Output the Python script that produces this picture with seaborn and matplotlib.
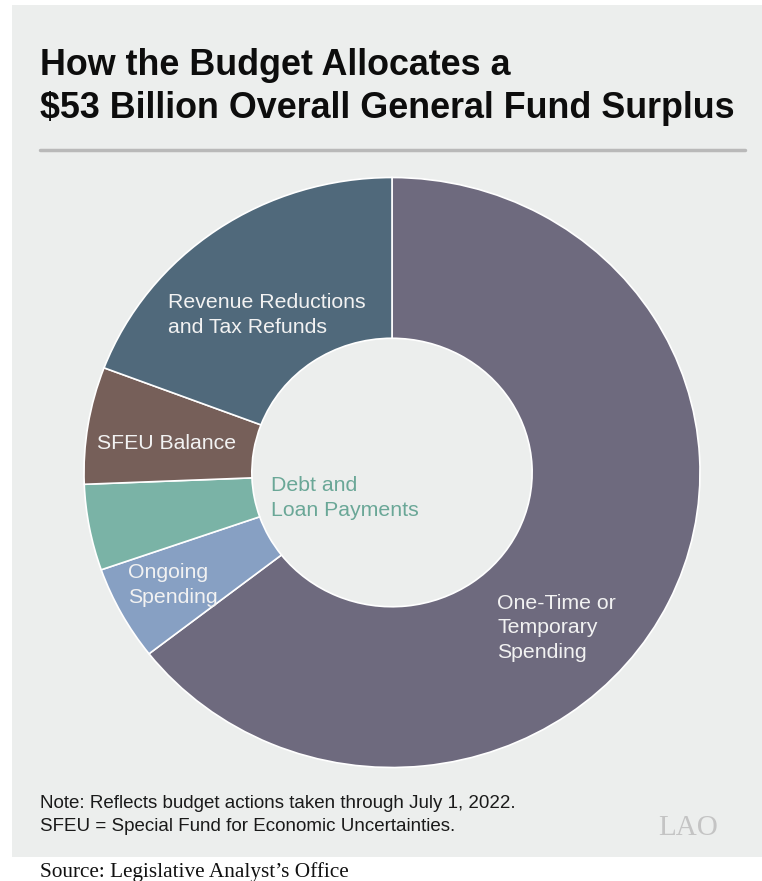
import matplotlib.pyplot as plt
import matplotlib.patches as patches
import seaborn as sns

sns.set_theme(style="white")
plt.rcParams['font.family'] = ['Liberation Sans', 'DejaVu Sans']

# Data (billions of dollars)
categories = ["One-Time or\nTemporary\nSpending", "Ongoing\nSpending",
              "Debt and\nLoan Payments", "SFEU Balance",
              "Revenue Reductions\nand Tax Refunds"]
values = [34.2, 2.75, 2.5, 3.4, 10.2]
colors = ["#6e6a7e", "#87a0c3", "#7ab3a6", "#765f59", "#50697b"]

BG = "#eceeed"
W, H = 762, 881

fig = plt.figure(figsize=(W / 100, H / 100), dpi=100)
fig.patch.set_facecolor("white")


def px(x, y):
    # pixel position (from top-left) to figure fraction
    return x / W, 1 - y / H


# gray panel
panel = patches.Rectangle((12 / W, 1 - 857 / H), (W - 12) / W, (857 - 5) / H,
                          transform=fig.transFigure, facecolor=BG,
                          edgecolor="none", zorder=-5)
fig.add_artist(panel)

# title
fig.text(*px(40, 75), "How the Budget Allocates a", fontsize=25.8, fontweight="bold",
         color="#0d0d0d", va="baseline")
fig.text(*px(40, 118), "$53 Billion Overall General Fund Surplus", fontsize=25.8,
         fontweight="bold", color="#0d0d0d", va="baseline")
fig.add_artist(plt.Line2D([40 / W, 745 / W], [1 - 150 / H, 1 - 150 / H],
                          transform=fig.transFigure, color="#b9b9b9", lw=2.5))

# donut
cx, cy, rx, ry = 392, 472.5, 308, 295
ax = fig.add_axes([(cx - rx) / W, 1 - (cy + ry) / H, 2 * rx / W, 2 * ry / H])
ax.set_facecolor("none")
ax.pie(values, colors=colors, startangle=90, counterclock=False, radius=1,
       wedgeprops=dict(width=0.545, edgecolor="white", linewidth=1.2))
ax.set_aspect("auto")
ax.set_xlim(-1, 1)
ax.set_ylim(-1, 1)
ax.axis("off")

# slice labels
lab = dict(fontsize=15.3, va="baseline", linespacing=1.37)
fig.text(*px(497, 658), categories[0], color="#f2f2f2", **lab)
fig.text(*px(128, 603), categories[1], color="#f2f2f2", **lab)
fig.text(*px(271, 516), categories[2], color="#6aa797", **lab)
fig.text(*px(97, 449), categories[3], color="#f2f2f2", **lab)
fig.text(*px(168, 333), categories[4], color="#f2f2f2", **lab)

# notes
fig.text(*px(40, 808), "Note: Reflects budget actions taken through July 1, 2022.",
         fontsize=13.5, color="#1a1a1a", va="baseline")
fig.text(*px(40, 831), "SFEU = Special Fund for Economic Uncertainties.",
         fontsize=13.5, color="#1a1a1a", va="baseline")
fig.text(*px(658, 835), "LAO", fontsize=21, color="#c4c4c4", va="baseline",
         family=["Liberation Serif", "DejaVu Serif"])
fig.text(*px(40, 877), "Source: Legislative Analyst\u2019s Office", fontsize=15.3,
         color="#111111", va="baseline", family=["Liberation Serif", "DejaVu Serif"])

fig.savefig("out.png", dpi=100)
